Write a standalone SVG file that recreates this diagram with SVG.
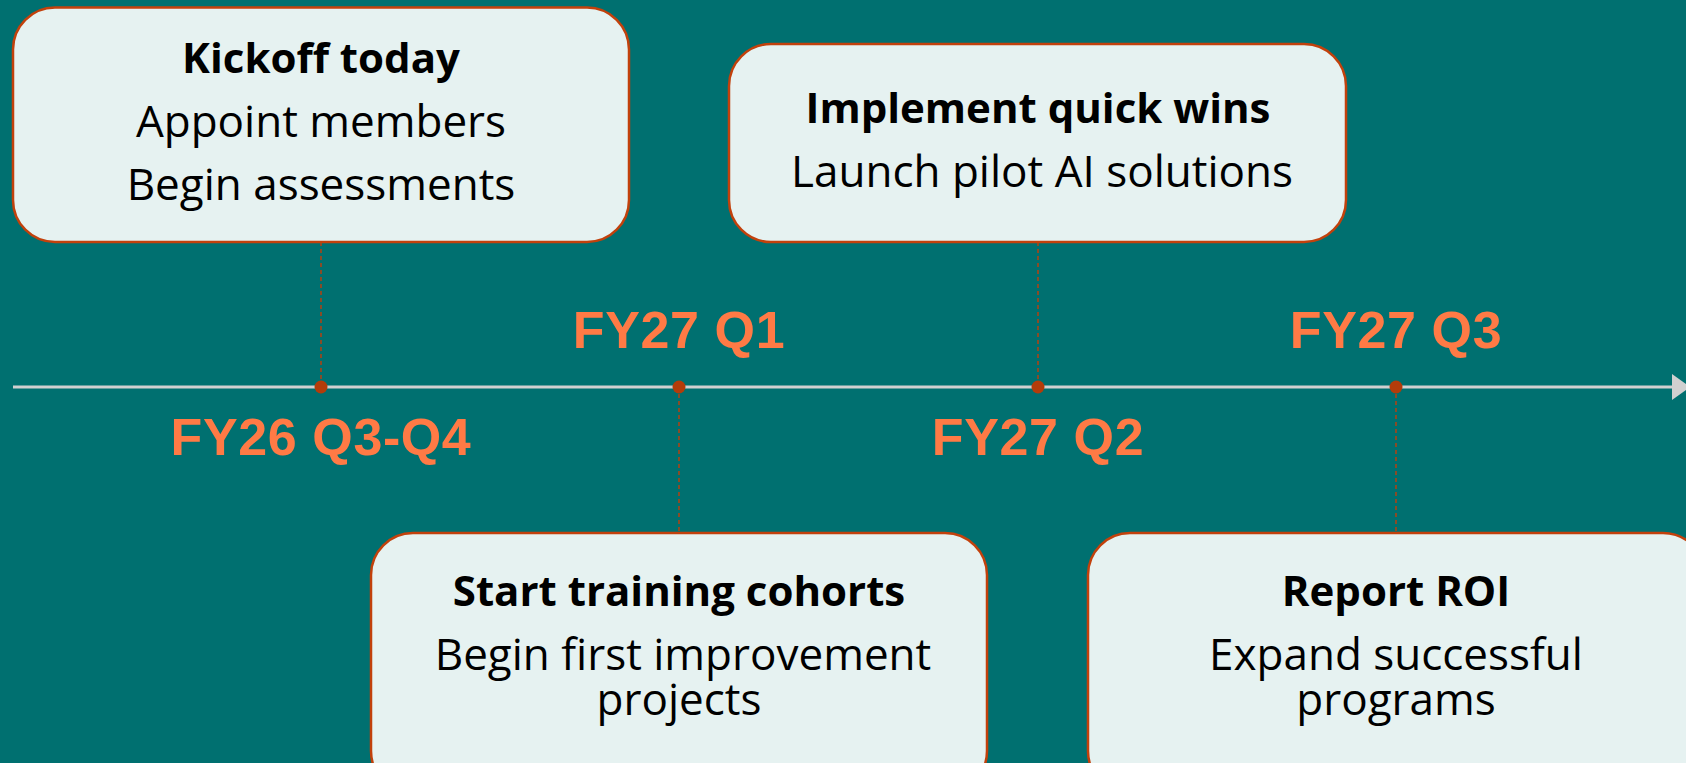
<svg xmlns="http://www.w3.org/2000/svg" width="1686" height="763" viewBox="0 0 1686 763">
<style>
.box{fill:#E6F2F1;stroke:#C2410C;stroke-width:2.5}
.t{font-family:"Open Sans","Liberation Sans",sans-serif;font-size:42px;font-weight:700;fill:#000;text-anchor:middle}
.b{font-family:"Open Sans","Liberation Sans",sans-serif;font-size:44px;fill:#000;text-anchor:middle}
.lbl{font-family:"Liberation Sans",Arial,sans-serif;font-size:52px;font-weight:700;letter-spacing:0.6px;fill:#FF7A45;text-anchor:middle}
.dash{stroke:#B5400F;stroke-width:1.5;stroke-dasharray:4 3;fill:none}
.dot{fill:#B33C0A}
</style>
<rect width="1686" height="763" fill="#007070"/>
<g id="connectors">
<line x1="13" y1="387" x2="1680" y2="387" stroke="#D0D0D0" stroke-width="3"/>
<path d="M1672,374 L1690,387 L1672,400 Z" fill="#D0D0D0"/>
<line class="dash" x1="321" y1="242" x2="321" y2="387"/>
<line class="dash" x1="1038" y1="242" x2="1038" y2="387"/>
<line class="dash" x1="679" y1="387" x2="679" y2="533"/>
<line class="dash" x1="1396" y1="387" x2="1396" y2="533"/>
<circle class="dot" cx="321" cy="387" r="6.5"/>
<circle class="dot" cx="679" cy="387" r="6.5"/>
<circle class="dot" cx="1038" cy="387" r="6.5"/>
<circle class="dot" cx="1396" cy="387" r="6.5"/>
</g>
<g id="labels">
<text class="lbl" x="321" y="455">FY26 Q3-Q4</text>
<text class="lbl" x="679" y="348">FY27 Q1</text>
<text class="lbl" x="1038" y="455">FY27 Q2</text>
<text class="lbl" x="1396" y="348">FY27 Q3</text>
</g>
<g id="node-kickoff">
<rect class="box" x="13" y="7.5" width="616" height="234.5" rx="42"/>
<text class="t" x="321" y="73">Kickoff today</text>
<text class="b" x="321" y="137">Appoint members</text>
<text class="b" x="321" y="200">Begin assessments</text>
</g>
<g id="node-quickwins">
<rect class="box" x="729" y="44" width="617" height="198" rx="42"/>
<text class="t" x="1038" y="123">Implement quick wins</text>
<text class="b" x="1042" y="187">Launch pilot AI solutions</text>
</g>
<g id="node-training">
<rect class="box" x="371" y="533" width="616" height="260" rx="42"/>
<text class="t" x="679" y="606">Start training cohorts</text>
<text class="b" x="683" y="670">Begin first improvement</text>
<text class="b" x="679" y="715">projects</text>
</g>
<g id="node-roi">
<rect class="box" x="1088" y="533" width="617" height="260" rx="42"/>
<text class="t" x="1396" y="606">Report ROI</text>
<text class="b" x="1396" y="670">Expand successful</text>
<text class="b" x="1396" y="715">programs</text>
</g>
</svg>
